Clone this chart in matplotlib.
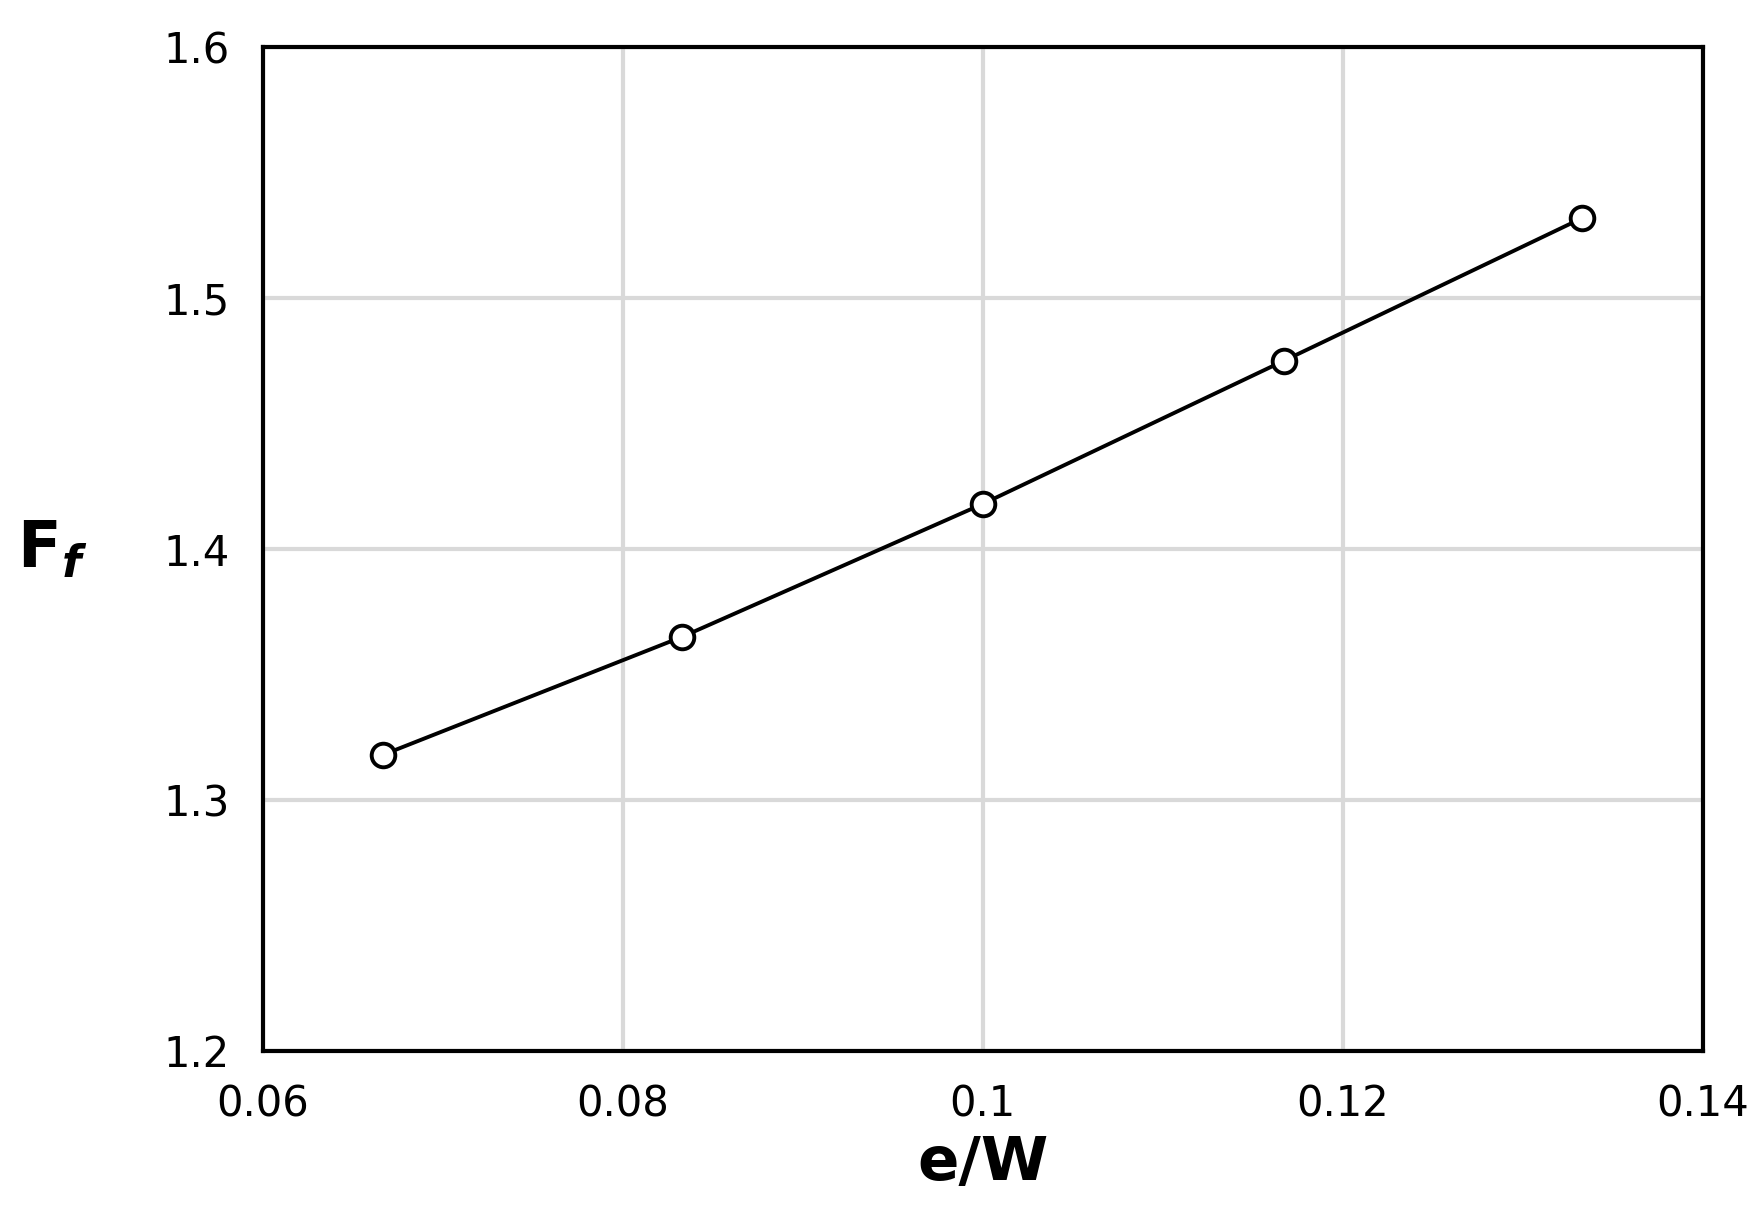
import matplotlib
matplotlib.use("Agg")
import matplotlib.pyplot as plt

# values
e_over_w = [0.0667, 0.0833, 0.1, 0.1167, 0.1333]
ff = [1.318, 1.365, 1.418, 1.475, 1.532]
xticks = [0.06, 0.08, 0.1, 0.12, 0.14]
xlabels = ["0.06", "0.08", "0.1", "0.12", "0.14"]
yticks = [1.2, 1.3, 1.4, 1.5, 1.6]

fig = plt.figure(figsize=(17.63, 12.16), dpi=100)
ax = fig.add_axes([0.149, 0.136, 0.817, 0.825])

ax.plot(e_over_w, ff, color="black", lw=2.8, marker="o", ms=17,
        mfc="white", mec="black", mew=2.8, zorder=3)

ax.set_xlim(0.06, 0.14)
ax.set_ylim(1.2, 1.6)
ax.set_xticks(xticks)
ax.set_xticklabels(xlabels)
ax.set_yticks(yticks)
ax.set_yticklabels([f"{v:.1f}" for v in yticks])
ax.grid(True, color="#d9d9d9", lw=3)
ax.set_axisbelow(True)
ax.tick_params(length=0, labelsize=30, pad=24)
for s in ax.spines.values():
    s.set_linewidth(3)

ax.set_xlabel("e/W", fontsize=44, fontweight="bold", labelpad=6)
ax.set_ylabel(r"$\mathbf{F}_{\boldsymbol{f}}$", fontsize=46, rotation=0, labelpad=80, va="center")

fig.savefig("out.png", dpi=100, facecolor="white")
